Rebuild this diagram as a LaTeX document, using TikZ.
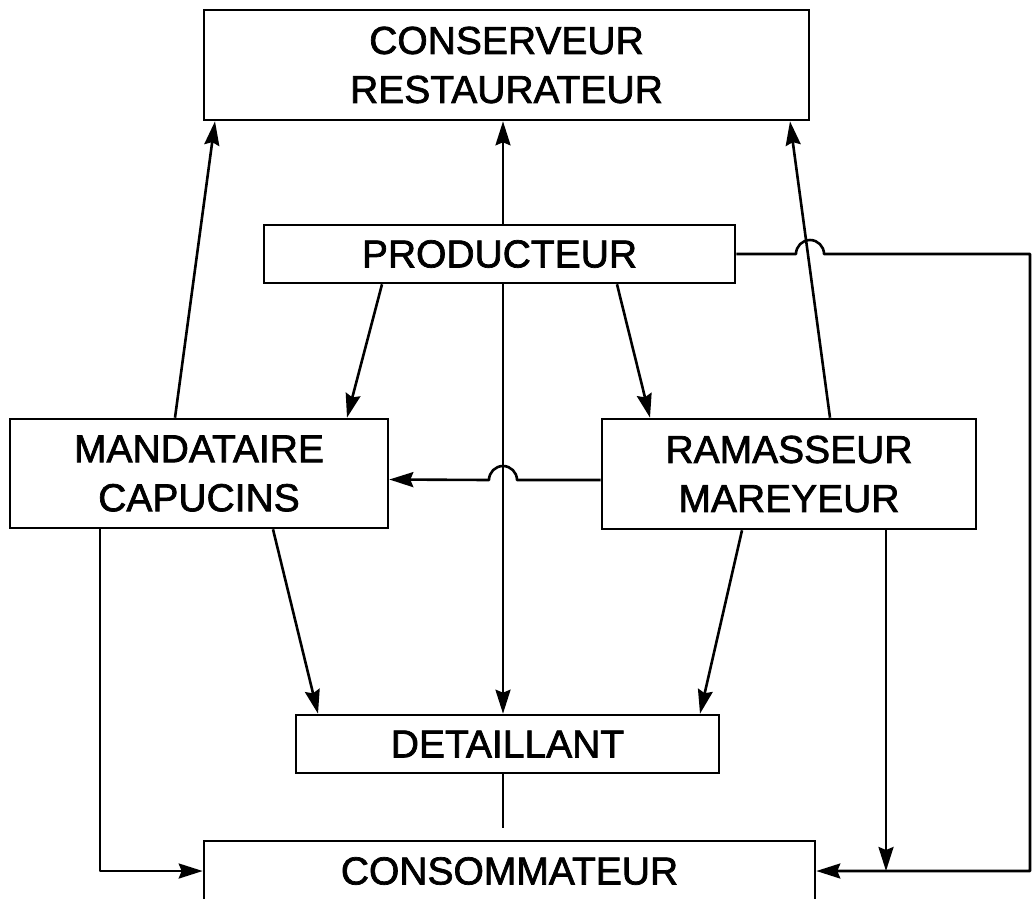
\documentclass[tikz,border=0pt]{standalone}
\usepackage{fontspec}
\setmainfont{Liberation Sans}
\newfontfamily\boxfont{Liberation Sans}[FakeBold=1.8]
\usetikzlibrary{arrows.meta,calc}
\begin{document}
\begin{tikzpicture}[x=1pt,y=-1pt,
  box/.style={draw,line width=2.6pt,fill=white,inner sep=0pt,align=center,
    font=\boxfont\fontsize{39}{49}\selectfont},
  link/.style={line width=2.6pt,line join=round},
  arr/.style={link,-{Stealth[length=24pt,width=15pt,inset=3pt]}}]
\clip (0,0) rectangle (1033,898);

% actors of the distribution chain
\node[box,minimum width=605pt,minimum height=110pt] (cons)   at (506.5,65)  {CONSERVEUR\\RESTAURATEUR};
\node[box,minimum width=471pt,minimum height=58pt]  (prod)   at (499.5,254) {PRODUCTEUR};
\node[box,minimum width=378pt,minimum height=109pt] (mand)   at (199,473.5) {MANDATAIRE\\CAPUCINS};
\node[box,minimum width=374pt,minimum height=110pt] (ram)    at (789,474)   {RAMASSEUR\\MAREYEUR};
\node[box,minimum width=423pt,minimum height=58pt]  (det)    at (507.5,744) {DETAILLANT};
\node[box,minimum width=611pt,minimum height=60pt]  (consom) at (509.5,871) {CONSOMMATEUR};

% helper points for the line hops and the right-hand return path
\coordinate (hopA) at (517,480);
\coordinate (hopB) at (796,254);
\coordinate (rcol) at (1030,0);
\coordinate (dend) at (503,828);

% flows towards the conserveur
\draw[arr] ([xshift=-24pt]mand.north) -- ([xshift=-291.5pt]cons.south);
\draw[arr] ([xshift=41pt]ram.north) -- ([xshift=283.5pt]cons.south);
\draw[arr] ([xshift=3.5pt]prod.north) -- ([xshift=-3.5pt]cons.south);

% from the producer
\draw[arr] ([xshift=-117.5pt]prod.south) -- ([xshift=148pt]mand.north);
\draw[arr] ([xshift=117.5pt]prod.south) -- ([xshift=-139pt]ram.north);
\draw[arr] ([xshift=3.5pt]prod.south) -- ([xshift=-4.5pt]det.north);

% ramasseur to mandataire, hopping over the central line
\draw[arr] ([yshift=-6pt]ram.west) -- (hopA)
  arc[start angle=0,end angle=180,radius=14pt] -- ([yshift=-6pt]mand.east);

% towards the detaillant
\draw[arr] ([xshift=74pt]mand.south) -- ([xshift=-189.5pt]det.north);
\draw[arr] ([xshift=-47pt]ram.south) -- ([xshift=192.5pt]det.north);
\draw[link] ([xshift=-4.5pt]det.south) -- (dend);

% direct sales to the consumer
\draw[arr] ([xshift=-99pt]mand.south) |- (consom.west);
\draw[arr] ([xshift=97pt]ram.south) -- ([xshift=97pt]ram.south |- consom.east);
\draw[arr] (prod.east) -- (hopB)
  arc[start angle=180,end angle=0,radius=14pt] -- (prod.east -| rcol)
  -- (rcol |- consom.east) -- (consom.east);
\end{tikzpicture}
\end{document}
